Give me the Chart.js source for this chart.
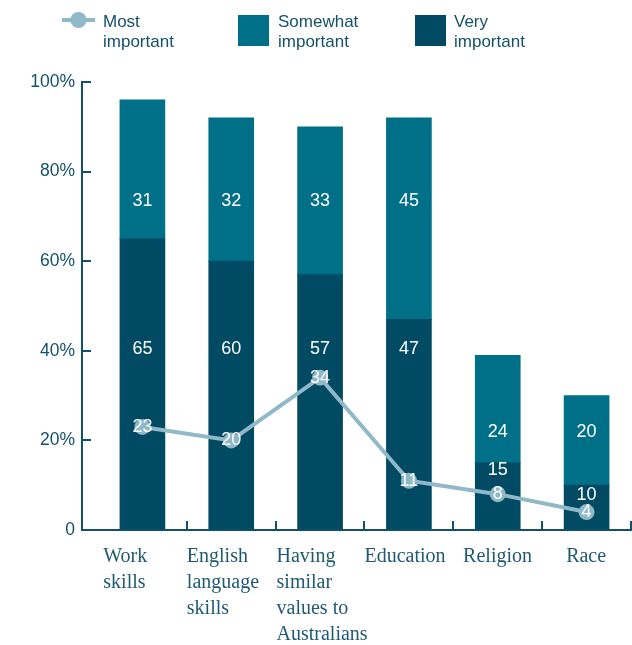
<!DOCTYPE html>
<html lang="en">
<head>
<meta charset="UTF-8">
<title>Importance of factors</title>
<script src="https://cdn.jsdelivr.net/npm/chart.js@4.4.1/dist/chart.umd.min.js"></script>
<style>
    body { margin: 0; background: #ffffff; }
    #wrap { width: 632px; height: 645px; }
</style>
</head>
<body>
<div id="wrap"><canvas id="importanceChart" width="632" height="645"></canvas></div>
<script>
    const categories = [['Work', 'skills'], ['English', 'language', 'skills'], ['Having', 'similar', 'values to', 'Australians'], ['Education'], ['Religion'], ['Race']];
    const veryImportant = [65, 60, 57, 47, 15, 10];
    const somewhatImportant = [31, 32, 33, 45, 24, 20];
    const mostImportant = [23, 20, 34, 11, 8, 4];
    const yTicks = [0, 20, 40, 60, 80, 100];

    // text placement: category text start relative to bar centre, value labels height (in % units)
    const labelShift = [-0.44, -0.5, -0.49, -0.5, -0.39, -0.23];
    const veryLabelAt = [40.4, 40.4, 40.4, 40.4, 13.4, 7.8];
    const somewhatLabelAt = [73.4, 73.4, 73.4, 73.4, 21.9, 21.9];

    const DARK = '#004b63';
    const MID = '#006f88';
    const LIGHT = '#8fb8c8';
    const INK = '#13516a';
    const SANS = '"Liberation Sans", Arial, sans-serif';
    const X_MIN = -0.68, X_MAX = 5.5;

    const points = arr => arr.map((v, i) => ({ x: i, y: v }));

    // legend drawn across the top of the canvas
    const topLegend = {
        id: 'topLegend',
        afterDraw(chart) {
            const ctx = chart.ctx;
            const ds = chart.data.datasets;
            ctx.save();
            ctx.strokeStyle = ds[0].borderColor;
            ctx.lineWidth = 4;
            ctx.beginPath();
            ctx.moveTo(62, 20);
            ctx.lineTo(95, 20);
            ctx.stroke();
            ctx.fillStyle = ds[0].pointBackgroundColor;
            ctx.beginPath();
            ctx.arc(78.5, 20, 8, 0, Math.PI * 2);
            ctx.fill();
            ctx.fillStyle = ds[2].backgroundColor;
            ctx.fillRect(238, 15, 31, 31);
            ctx.fillStyle = ds[1].backgroundColor;
            ctx.fillRect(415, 15, 31, 31);

            ctx.font = '17px ' + SANS;
            ctx.fillStyle = INK;
            ctx.textBaseline = 'alphabetic';
            const items = [[103, ds[0].label], [278, ds[2].label], [454, ds[1].label]];
            items.forEach(([x, lines]) => {
                lines.forEach((t, k) => ctx.fillText(t, x, 27 + k * 20));
            });
            ctx.restore();
        }
    };

    // white value labels on bars and line points
    const valueLabels = {
        id: 'valueLabels',
        afterDatasetsDraw(chart) {
            const ctx = chart.ctx;
            const y = chart.scales.y;
            ctx.save();
            ctx.font = '18px ' + SANS;
            ctx.fillStyle = '#ffffff';
            ctx.textAlign = 'center';
            ctx.textBaseline = 'middle';
            chart.getDatasetMeta(1).data.forEach((bar, i) => {
                ctx.fillText(veryImportant[i], bar.x, y.getPixelForValue(veryLabelAt[i]));
            });
            chart.getDatasetMeta(2).data.forEach((bar, i) => {
                ctx.fillText(somewhatImportant[i], bar.x, y.getPixelForValue(somewhatLabelAt[i]));
            });
            chart.getDatasetMeta(0).data.forEach((pt, i) => {
                ctx.fillText(mostImportant[i], pt.x, pt.y);
            });
            ctx.restore();
        }
    };

    new Chart(document.getElementById('importanceChart'), {
        data: {
            datasets: [
                {
                    type: 'line',
                    label: ['Most', 'important'],
                    data: points(mostImportant),
                    stack: 'line',
                    borderColor: LIGHT,
                    borderWidth: 4,
                    pointRadius: 8,
                    pointBackgroundColor: LIGHT,
                    pointBorderWidth: 0,
                    tension: 0,
                    order: 0
                },
                {
                    type: 'bar',
                    label: ['Very', 'important'],
                    data: points(veryImportant),
                    stack: 'bars',
                    backgroundColor: DARK,
                    barThickness: 45,
                    order: 1
                },
                {
                    type: 'bar',
                    label: ['Somewhat', 'important'],
                    data: points(somewhatImportant),
                    stack: 'bars',
                    backgroundColor: MID,
                    barThickness: 45,
                    order: 1
                }
            ]
        },
        options: {
            responsive: false,
            animation: false,
            layout: { autoPadding: false, padding: { top: 82, right: 1, bottom: 0, left: 0 } },
            plugins: { legend: { display: false }, tooltip: { enabled: false } },
            scales: {
                x: {
                    type: 'linear',
                    min: X_MIN,
                    max: X_MAX,
                    offset: false,
                    weight: 1,
                    border: { display: false },
                    grid: { display: false, drawTicks: false, offset: false },
                    afterBuildTicks: s => { s.ticks = categories.map((c, i) => ({ value: i + labelShift[i] })); },
                    afterFit: s => { s.height = 115; s.paddingRight = 0; s.paddingLeft = 0; },
                    ticks: {
                        autoSkip: false,
                        maxRotation: 0,
                        minRotation: 0,
                        align: 'start',
                        padding: 14,
                        color: '#1f5a72',
                        font: { family: '"Liberation Serif", "Times New Roman", serif', size: 20, lineHeight: 1.3 },
                        callback: (v, i) => categories[i]
                    }
                },
                xb: {
                    type: 'linear',
                    position: 'bottom',
                    min: X_MIN,
                    max: X_MAX,
                    offset: false,
                    weight: 0,
                    border: { display: true, color: INK, width: 2 },
                    grid: { drawOnChartArea: false, offset: false, tickLength: -9, color: INK, lineWidth: 2 },
                    afterBuildTicks: s => { s.ticks = categories.map((c, i) => ({ value: i + 0.5 })); },
                    afterFit: s => { s.height = 0; },
                    ticks: { display: false }
                },
                y: {
                    stacked: true,
                    min: 0,
                    max: 100,
                    border: { display: true, color: INK, width: 2 },
                    grid: { drawOnChartArea: false, tickLength: -9, color: INK, lineWidth: 2 },
                    afterBuildTicks: s => { s.ticks = yTicks.map(v => ({ value: v })); },
                    afterFit: s => { s.width = 82; },
                    ticks: {
                        padding: 16,
                        color: INK,
                        font: { family: SANS, size: 17.5 },
                        callback: v => v === 0 ? '0' : v + '%'
                    }
                }
            }
        },
        plugins: [topLegend, valueLabels]
    });
</script>
</body>
</html>
